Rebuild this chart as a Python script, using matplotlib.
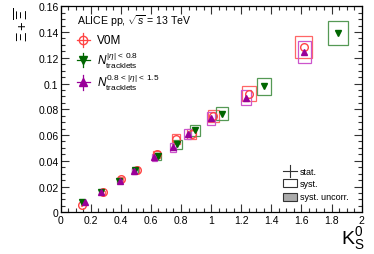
import numpy as np
import matplotlib
matplotlib.use('Agg')
import matplotlib.pyplot as plt
from matplotlib.patches import Rectangle
from matplotlib.ticker import MultipleLocator

plt.rcParams['font.family'] = ['Liberation Sans', 'DejaVu Sans']
plt.rcParams['mathtext.fontset'] = 'custom'
plt.rcParams['mathtext.rm'] = 'Liberation Sans'
plt.rcParams['mathtext.it'] = 'Liberation Sans:italic'
plt.rcParams['mathtext.bf'] = 'Liberation Sans:bold'

# V0M
x_v0m = [0.14, 0.284, 0.40, 0.506, 0.638, 0.767, 0.87, 1.015, 1.253, 1.614]
y_v0m = [0.0057, 0.0155, 0.0258, 0.0328, 0.045, 0.0568, 0.0607, 0.0749, 0.0922, 0.1284]
xs_v0m = [0.005, 0.010, 0.014, 0.018, 0.023, 0.028, 0.031, 0.037, 0.045, 0.058]
ys_v0m = [0.0006, 0.0011, 0.0017, 0.0022, 0.0029, 0.0037, 0.0040, 0.0049, 0.0060, 0.0084]

# N tracklets |eta|<0.8
x_trk = [0.14, 0.267, 0.39, 0.495, 0.645, 0.776, 0.893, 1.073, 1.35, 1.843]
y_trk = [0.0078, 0.0155, 0.0245, 0.0325, 0.0434, 0.053, 0.0638, 0.0767, 0.0977, 0.139]
xs_trk = [0.005, 0.010, 0.014, 0.018, 0.023, 0.028, 0.032, 0.038, 0.048, 0.066]
ys_trk = [0.0006, 0.0011, 0.0016, 0.0021, 0.0028, 0.0035, 0.0042, 0.0050, 0.0065, 0.0093]

# N tracklets 0.8<|eta|<1.5
x_fwd = [0.163, 0.27, 0.395, 0.49, 0.623, 0.745, 0.845, 0.997, 1.234, 1.62]
y_fwd = [0.0082, 0.016, 0.024, 0.032, 0.0426, 0.0504, 0.0607, 0.0729, 0.0891, 0.1245]
xs_fwd = [0.004, 0.007, 0.011, 0.013, 0.017, 0.020, 0.023, 0.027, 0.034, 0.042]
ys_fwd = [0.0006, 0.0011, 0.0016, 0.0021, 0.0028, 0.0033, 0.0040, 0.0048, 0.0058, 0.0082]

series = [
    (x_v0m, y_v0m, xs_v0m, ys_v0m, 'o', '#ff4444', '#ff6666', 'none', 'V0M'),
    (x_trk, y_trk, xs_trk, ys_trk, 'v', '#006600', '#559955', '#006600',
     r'$N_{\mathrm{tracklets}}^{|\eta|\,<\,0.8}$'),
    (x_fwd, y_fwd, xs_fwd, ys_fwd, '^', '#990099', '#cc55cc', '#990099',
     r'$N_{\mathrm{tracklets}}^{0.8\,<\,|\eta|\,<\,1.5}$'),
]

fig = plt.figure(figsize=(3.74, 2.55), dpi=100)
ax = fig.add_axes([0.162, 0.1635, 0.805, 0.808])

for xv, yv, xs, ys, mk, col, bcol, fc, lab in series:
    for xi, yi, dx, dy in zip(xv, yv, xs, ys):
        ax.add_patch(Rectangle((xi - dx, yi - dy), 2 * dx, 2 * dy, fill=False,
                               edgecolor=bcol, lw=0.9, zorder=2))
    ax.plot(xv, yv, ls='none', marker=mk, ms=5 if mk != 'o' else 5.5,
            mfc=fc, mec=col, mew=1.0, zorder=3)

ax.set_xlim(0, 2)
ax.set_ylim(0, 0.16)
ax.xaxis.set_minor_locator(MultipleLocator(0.05))
ax.yaxis.set_minor_locator(MultipleLocator(0.005))
ax.set_xticks(np.arange(0, 2.01, 0.2))
ax.set_xticklabels(['0', '0.2', '0.4', '0.6', '0.8', '1', '1.2', '1.4', '1.6', '1.8', '2'])
ax.set_yticks(np.arange(0, 0.161, 0.02))
ax.set_yticklabels(['0', '0.02', '0.04', '0.06', '0.08', '0.1', '0.12', '0.14', '0.16'])
ax.tick_params(which='both', direction='in', top=True, right=True, labelsize=7.5,
               width=0.8, color='#333333')
ax.tick_params(which='major', length=6)
ax.tick_params(which='minor', length=3)
ax.tick_params(axis='x', pad=2)
ax.tick_params(axis='y', pad=1.5)
for sp in ax.spines.values():
    sp.set_linewidth(0.9)

# y label (only its upper part is visible in the original)
fig.text(0.06, 0.972, r'$\Xi+\overline{\Xi}$', rotation=90,
         ha='center', va='top', fontsize=10.5)

fig.text(0.975, 0.01, r'$\mathrm{K}^{0}_{\mathrm{S}}$', ha='right', va='bottom',
         fontsize=14)

# top-left legend
ax.text(0.055, 0.933, r'ALICE pp, $\sqrt{s}$ = 13 TeV', transform=ax.transAxes,
        ha='left', va='center', fontsize=7.6)
leg_y = [0.836, 0.738, 0.631]
for (xv, yv, xs, ys, mk, col, bcol, fc, lab), ly in zip(series, leg_y):
    ax.plot([0.055, 0.097], [ly, ly], color=col, lw=0.9, transform=ax.transAxes)
    ax.plot([0.076, 0.076], [ly - 0.035, ly + 0.035], color=col, lw=0.9,
            transform=ax.transAxes)
    ax.plot([0.076], [ly], marker=mk, ms=6, mfc=fc, mec=col, mew=1.0,
            transform=ax.transAxes, ls='none')
    ax.text(0.12, ly, lab, transform=ax.transAxes, ha='left', va='center',
            fontsize=8.5)

# bottom-right legend
ax.plot([0.738, 0.786], [0.199, 0.199], color='#333333', lw=0.8, transform=ax.transAxes)
ax.plot([0.762, 0.762], [0.17, 0.228], color='#333333', lw=0.8, transform=ax.transAxes)
ax.add_patch(Rectangle((0.739, 0.122), 0.047, 0.04, fill=False, edgecolor='#333333',
                       lw=0.8, transform=ax.transAxes))
ax.add_patch(Rectangle((0.739, 0.056), 0.047, 0.04, facecolor='#aaaaaa',
                       edgecolor='#333333', lw=0.8, transform=ax.transAxes))
for ty, tt in zip([0.199, 0.142, 0.076], ['stat.', 'syst.', 'syst. uncorr.']):
    ax.text(0.796, ty, tt, transform=ax.transAxes, ha='left', va='center', fontsize=6.5)

fig.savefig('out.png', dpi=100)
